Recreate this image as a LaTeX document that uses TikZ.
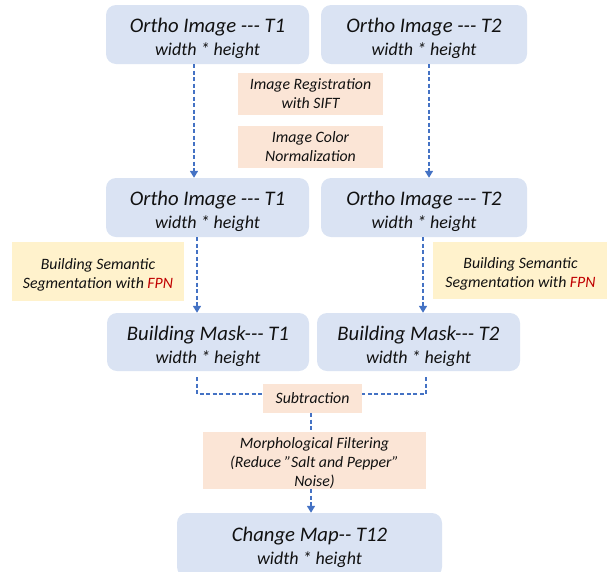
\documentclass[tikz,border=0pt]{standalone}
\usepackage{fontspec}
\setmainfont{Carlito}[Ligatures=TeXOff]
\usetikzlibrary{arrows.meta,calc}
\definecolor{boxblue}{HTML}{DAE3F3}
\definecolor{boxpeach}{HTML}{FBE5D6}
\definecolor{boxyellow}{HTML}{FFF2CC}
\definecolor{flowblue}{HTML}{4472C4}
\definecolor{fpnred}{HTML}{C00000}
\definecolor{ink}{HTML}{111111}
\tikzset{
  imgbox/.style={fill=boxblue, draw=none, rounded corners=10pt, align=center,
    text=ink, inner sep=0pt, font=\itshape\fontsize{18pt}{23pt}\selectfont},
  opbox/.style={fill=boxpeach, draw=none, align=center, text=ink, inner sep=0pt,
    font=\itshape\fontsize{15.8pt}{19pt}\selectfont},
  segbox/.style={fill=boxyellow, draw=none, align=center, text=ink, inner sep=0pt,
    font=\itshape\fontsize{15.8pt}{19pt}\selectfont},
  flow/.style={draw=flowblue, line width=1.6pt, dash pattern=on 4pt off 2.5pt,
    -{Triangle[length=7pt,width=8pt]}},
  link/.style={draw=flowblue, line width=1.6pt, dash pattern=on 4pt off 2.5pt},
}
% two-line image label; the strut (#1) sets how low the lines sit in the box
\newcommand{\imgtext}[3][22.5pt]{{\fontsize{20.7pt}{23pt}\selectfont\rule{0pt}{#1}#2}\\#3}
\newcommand{\opshift}[1][17pt]{\rule{0pt}{#1}}
\begin{document}
\begin{tikzpicture}[x=1pt,y=-1pt]
\useasboundingbox (0,0) rectangle (607,571);

% input images
\node[imgbox, minimum width=203pt, minimum height=59pt] (o1) at (207.5,34.5)
  {\imgtext{Ortho Image --- T1}{width * height}};
\node[imgbox, minimum width=206pt, minimum height=59pt] (o2) at (424,34.5)
  {\imgtext{Ortho Image --- T2}{width * height}};

% preprocessing steps
\node[opbox, minimum width=145pt, minimum height=42pt] (reg) at (310.5,94)
  {Image Registration\\with SIFT};
\node[opbox, minimum width=145pt, minimum height=42pt] (norm) at (310.5,147)
  {Image Color\\Normalization};

% normalized images
\node[imgbox, minimum width=203pt, minimum height=59pt] (o3) at (207.5,207.5)
  {\imgtext{Ortho Image --- T1}{width * height}};
\node[imgbox, minimum width=206pt, minimum height=59pt] (o4) at (424,207.5)
  {\imgtext{Ortho Image --- T2}{width * height}};

% segmentation steps
\node[segbox, minimum width=172pt, minimum height=59pt] (seg1) at (98,271.5)
  {\opshift Building Semantic\\Segmentation with \textcolor{fpnred}{FPN}};
\node[segbox, minimum width=175pt, minimum height=57pt] (seg2) at (520.5,270.5)
  {\opshift Building Semantic\\Segmentation with \textcolor{fpnred}{FPN}};

% building masks
\node[imgbox, minimum width=202pt, minimum height=58pt] (m1) at (208,342)
  {\imgtext{Building Mask--- T1}{width * height}};
\node[imgbox, minimum width=203pt, minimum height=58pt] (m2) at (418.5,342)
  {\imgtext{Building Mask--- T2}{width * height}};

% change detection
\node[opbox, minimum width=99pt, minimum height=29pt] (sub) at (312.5,398.5)
  {Subtraction};
\node[opbox, minimum width=223pt, minimum height=57pt] (morph) at (314.5,460.5)
  {\opshift Morphological Filtering\\(Reduce ”Salt and Pepper”\\Noise)};
\node[imgbox, minimum width=265pt, minimum height=64pt] (cm) at (309.5,545)
  {\imgtext[19pt]{Change Map-- T12}{width * height}};

% flow between stages
\draw[flow] ([xshift=-13.5pt]o1.south) -- ([xshift=-13.5pt]o3.north);
\draw[flow] ([xshift=5pt]o2.south) -- ([xshift=5pt]o4.north);
\draw[flow] ([xshift=-10.5pt]o3.south) -- ([xshift=-10.5pt]o3.south |- m1.north);
\draw[flow] ([xshift=-1pt]o4.south) -- ([xshift=-1pt]o4.south |- m2.north);

\coordinate (j1) at ($([xshift=-11pt]m1.south)+(0,23)$);
\coordinate (j2) at ($([xshift=7.5pt]m2.south)+(0,23)$);
\draw[link] ([xshift=-11pt,yshift=-6pt]m1.south) -- (j1) -- (j1 -| sub.west);
\draw[link] ([xshift=7.5pt,yshift=-6pt]m2.south) -- (j2) -- (j2 -| sub.east);

\draw[link] ([xshift=-1.5pt]sub.south) -- ([xshift=-1.5pt]sub.south |- morph.north);
\draw[flow] ([xshift=-3.5pt]morph.south) -- ([xshift=-3.5pt]morph.south |- cm.north);
\end{tikzpicture}
\end{document}
